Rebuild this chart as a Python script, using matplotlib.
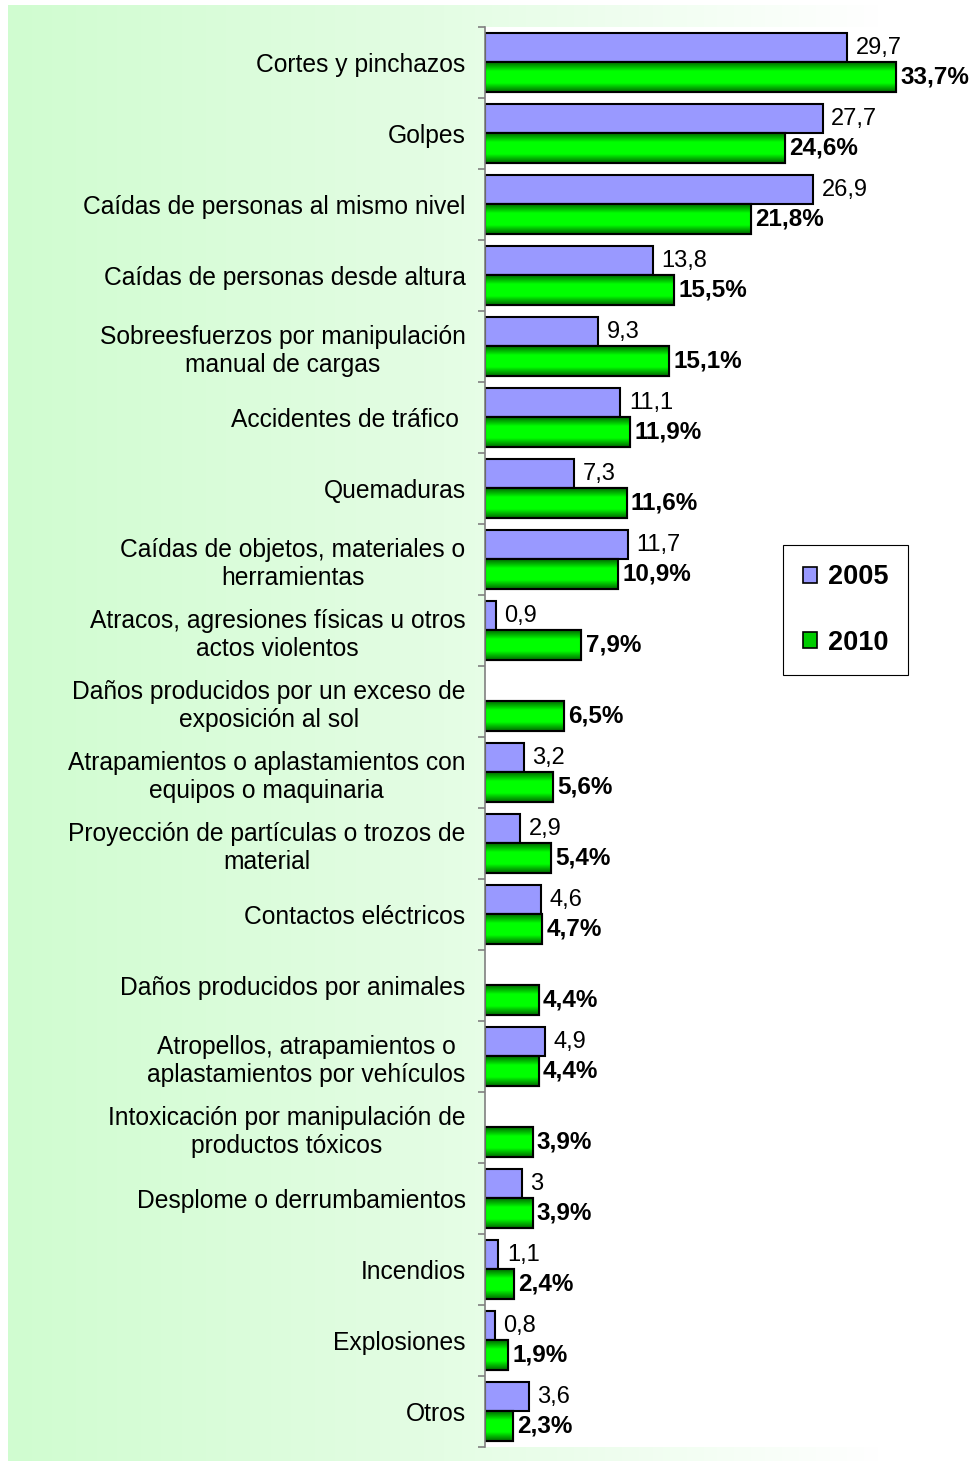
import numpy as np
import matplotlib
matplotlib.use("Agg")
import matplotlib.pyplot as plt
from matplotlib.colors import LinearSegmentedColormap
from matplotlib.patches import Patch

plt.rcParams['font.family'] = ['Liberation Sans', 'DejaVu Sans']

# Categories (top to bottom)
categories = [
    "Cortes y pinchazos",
    "Golpes",
    "Caídas de personas al mismo nivel",
    "Caídas de personas desde altura",
    "Sobreesfuerzos por manipulación\nmanual de cargas",
    "Accidentes de tráfico ",
    "Quemaduras",
    "Caídas de objetos, materiales o\nherramientas",
    "Atracos, agresiones físicas u otros\nactos violentos",
    "Daños producidos por un exceso de\nexposición al sol",
    "Atrapamientos o aplastamientos con\nequipos o maquinaria",
    "Proyección de partículas o trozos de\nmaterial",
    "Contactos eléctricos",
    "Daños producidos por animales",
    "Atropellos, atrapamientos o\naplastamientos por vehículos",
    "Intoxicación por manipulación de\nproductos tóxicos",
    "Desplome o derrumbamientos",
    "Incendios",
    "Explosiones",
    "Otros",
]
values_2005 = [29.7, 27.7, 26.9, 13.8, 9.3, 11.1, 7.3, 11.7, 0.9, None,
               3.2, 2.9, 4.6, None, 4.9, None, 3.0, 1.1, 0.8, 3.6]
values_2010 = [33.7, 24.6, 21.8, 15.5, 15.1, 11.9, 11.6, 10.9, 7.9, 6.5,
               5.6, 5.4, 4.7, 4.4, 4.4, 3.9, 3.9, 2.4, 1.9, 2.3]
series_names = ["2005", "2010"]

W, H = 971, 1461
fig = plt.figure(figsize=(W / 100, H / 100), dpi=100)

# background gradient (light green -> white)
bg = fig.add_axes([8 / W, 0, 872 / W, 1456 / H])
grad = np.linspace(0, 1, 256)[None, :]
bg_cmap = LinearSegmentedColormap.from_list("bg", ["#d0fcd0", "#e4fde4", "#ffffff"])
bg.imshow(grad, aspect="auto", cmap=bg_cmap, extent=[0, 1, 0, 1])
bg.set_axis_off()

ax_left, ax_top, ax_bottom = 485, 27, 1447
ax = fig.add_axes([ax_left / W, 1 - ax_bottom / H, 1 - ax_left / W, (ax_bottom - ax_top) / H])
ax.set_facecolor("white")

px_per_unit = 12.2
ax.set_xlim(0, (W - ax_left) / px_per_unit)
n = len(categories)
ax.set_ylim(n - 0.5, -0.5)

bar_h = 0.42
y = np.arange(n)
blue = "#9999ff"
green_cmap = LinearSegmentedColormap.from_list(
    "g", [(0, "#006a00"), (0.3, "#00ff00"), (0.7, "#00ff00"), (1, "#006a00")])

for i, v in enumerate(values_2005):
    if v is None:
        continue
    ax.barh(y[i] - bar_h / 2, v, height=bar_h, color=blue, edgecolor="black",
            linewidth=1.5, zorder=3)
    lbl = f"{v:g}".replace(".", ",")
    ax.annotate(lbl, (v, y[i] - bar_h / 2), xytext=(6, 0), textcoords="offset points",
                va="center", ha="left", fontsize=17, zorder=5)

grad_v = np.linspace(0, 1, 64)[:, None]
for i, v in enumerate(values_2010):
    yc = y[i] + bar_h / 2
    bars = ax.barh(yc, v, height=bar_h, color="#00ff00", edgecolor="black",
                   linewidth=1.5, zorder=3)
    im = ax.imshow(grad_v, cmap=green_cmap, aspect="auto",
                   extent=[0, v, yc + bar_h / 2, yc - bar_h / 2], zorder=3.5)
    im.set_clip_path(bars.patches[0])
    ax.barh(yc, v, height=bar_h, color="none", edgecolor="black", linewidth=1.5, zorder=4)
    lbl = f"{v:.1f}%".replace(".", ",")
    ax.annotate(lbl, (v, yc), xytext=(3, 0), textcoords="offset points",
                va="center", ha="left", fontsize=17.5, fontweight="bold", zorder=5)

ax.set_xlim(0, (W - ax_left) / px_per_unit)
ax.set_ylim(n - 0.5, -0.5)

# category labels
ax.set_yticks(y)
ax.set_yticklabels(categories, fontsize=17.7, linespacing=1.2)
for t in ax.get_yticklabels():
    t.set_multialignment("center")
ax.tick_params(axis="y", which="major", length=0, pad=14)
ax.set_yticks(np.arange(-0.5, n, 1), minor=True)
ax.tick_params(axis="y", which="minor", length=5, color="#808080", width=1.2)
ax.set_xticks([])
for s in ["top", "right", "bottom"]:
    ax.spines[s].set_visible(False)
ax.spines["left"].set_color("#808080")
ax.spines["left"].set_linewidth(1.2)
ax.spines["left"].set_zorder(6)

handles = [Patch(facecolor=blue, edgecolor="black", linewidth=1.2),
           Patch(facecolor="#00cc00", edgecolor="black", linewidth=1.2)]
leg = ax.legend(handles, series_names, loc="upper left",
                bbox_to_anchor=(783 / W, 1 - 545 / H), bbox_transform=fig.transFigure,
                prop={"weight": "bold", "size": 19.5}, frameon=True, fancybox=False,
                edgecolor="black", framealpha=1, borderpad=0.72, labelspacing=1.45,
                handlelength=0.55, handleheight=0.55, handletextpad=0.4, borderaxespad=0)
leg.get_frame().set_linewidth(0.8)

fig.savefig("out.png", dpi=100)
